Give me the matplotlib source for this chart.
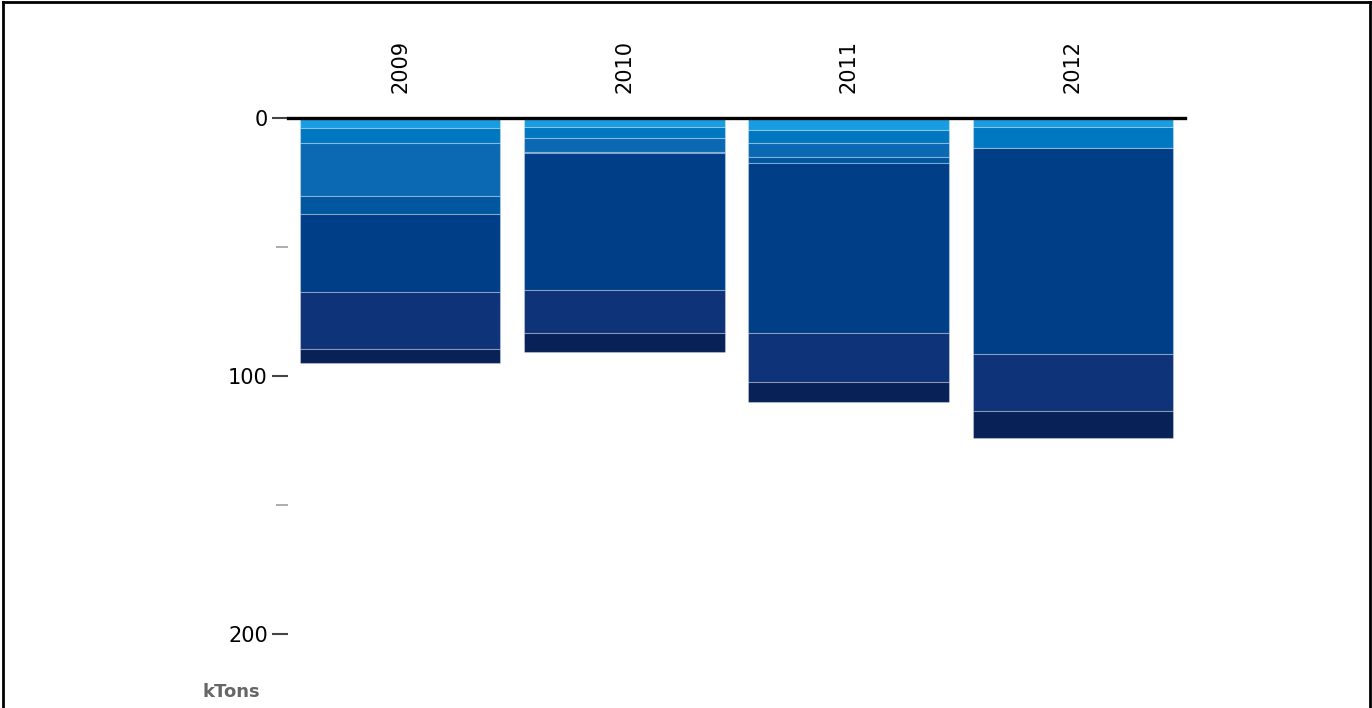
import numpy as np
import matplotlib
matplotlib.use("Agg")
import matplotlib.pyplot as plt
from matplotlib.lines import Line2D

# data (kTons), stacked top-down
years = ["2009", "2010", "2011", "2012"]
s1 = [4.0, 3.4, 4.6, 3.4]
s2 = [5.8, 4.5, 5.2, 8.1]
s3 = [20.4, 5.2, 5.2, 0.0]
s4 = [7.0, 0.5, 2.6, 0.0]
s5 = [30.2, 53.1, 65.7, 80.0]
s6 = [22.1, 16.6, 19.0, 22.1]
s7 = [5.5, 7.4, 7.8, 10.5]
series = [s1, s2, s3, s4, s5, s6, s7]
colors = ["#1a9de0", "#0077c1", "#0b69b3", "#0057a0", "#003f87", "#0e3379", "#082258"]

W, H = 1372, 708
fig = plt.figure(figsize=(W / 100, H / 100), dpi=100)
ax = fig.add_axes([288 / W, 1 - 634 / H, 897 / W, (634 - 118) / H])

x = np.arange(len(years))
bottom = np.zeros(len(years))
for vals, c in zip(series, colors):
    v = np.array(vals)
    ax.bar(x, v, bottom=bottom, width=0.893, color=c,
           edgecolor=(1, 1, 1, 0.3), linewidth=0.8)
    bottom += v

ax.set_xlim(-0.5, 3.5)
ax.set_ylim(200, 0)

for sp in ["left", "right", "bottom"]:
    ax.spines[sp].set_visible(False)
ax.spines["top"].set_linewidth(2.4)
ax.spines["top"].set_color("black")

ax.xaxis.tick_top()
ax.set_xticks(x)
ax.set_xticklabels(years, rotation=90, fontsize=15)
ax.tick_params(axis="x", length=0, pad=18)

ax.set_yticks([0, 100, 200])
ax.set_yticks([50, 150], minor=True)
ax.tick_params(axis="y", which="major", length=11.5, width=1.5, color="#444444",
               labelsize=15, pad=3)
ax.tick_params(axis="y", which="minor", length=9, width=1.2, color="#a0a0a0")

fig.text(202 / W, 1 - 692 / H, "kTons", fontsize=13, fontweight="bold",
         color="#666666", ha="left", va="center")

# frame around the picture (left, top, right)
fig.add_artist(Line2D([3 / W, 3 / W], [0, 1 - 2 / H], color="black", lw=2,
                      transform=fig.transFigure))
fig.add_artist(Line2D([3 / W, 1 - 2 / W], [1 - 2 / H, 1 - 2 / H], color="black", lw=2,
                      transform=fig.transFigure))
fig.add_artist(Line2D([1 - 2 / W, 1 - 2 / W], [0, 1 - 2 / H], color="black", lw=2,
                      transform=fig.transFigure))

fig.savefig("out.png", dpi=100)
